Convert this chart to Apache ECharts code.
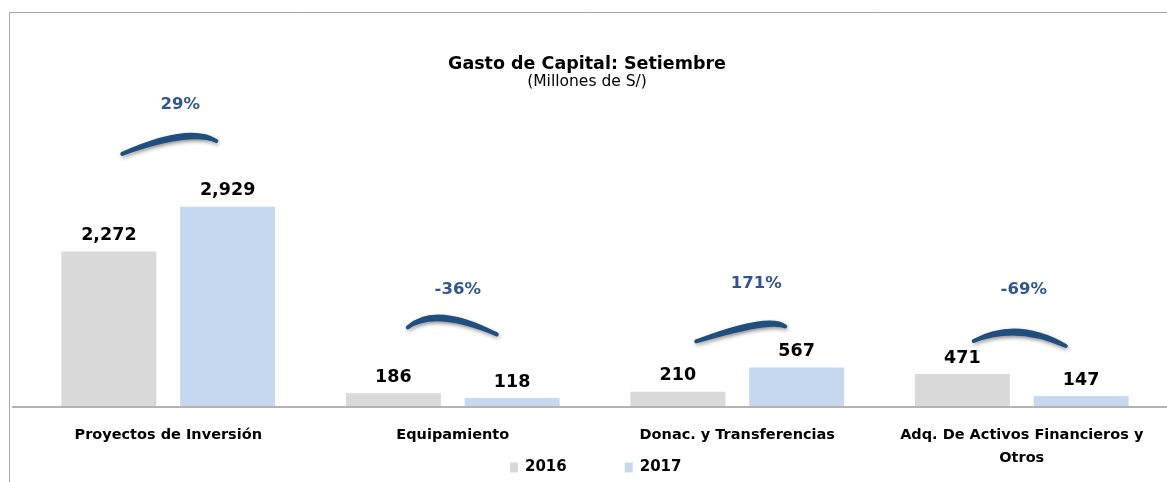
<!DOCTYPE html>
<html>
<head>
<meta charset="utf-8">
<script src="https://cdn.jsdelivr.net/npm/echarts@6/dist/echarts.min.js"></script>
<style>
  html, body { margin: 0; padding: 0; background: #fff; }
  #chart { width: 1167px; height: 482px; }
</style>
</head>
<body>
<div id="chart"></div>
<script>
// datos del gráfico
const categories = ['Proyectos de Inversión', 'Equipamiento', 'Donac. y Transferencias', 'Adq. De Activos Financieros y\nOtros']
const values2016 = [2272, 186, 210, 471]
const values2017 = [2929, 118, 567, 147]
const changeLabels = ['29%', '-36%', '171%', '-69%']

const FONT = '"DejaVu Sans", sans-serif'
const ARC_COLOR = '#1f4e7f'
const PCT_COLOR = '#2f5690'

// forma de cada arco (px, respecto al centro de la categoría y la barra más alta)
const arcStyle = [
  { l: [-46, -53], c: [21, -80], r: [48, -66], t: [12, -102] },
  { l: [-45, -66], c: [-18, -88], r: [44, -59], t: [5, -104] },
  { l: [-41, -26], c: [32, -51], r: [48, -41], t: [19, -84] },
  { l: [-48, -33], c: [-5, -53], r: [44, -28], t: [2, -84] }
]

const chart = echarts.init(document.getElementById('chart'))

const valueLabel = {
  show: true, position: 'top', distance: 7,
  fontFamily: FONT, fontSize: 17.5, fontWeight: 'bold', color: '#000',
  formatter: p => p.value.toLocaleString('en-US')
}

const option = {
  animation: false,
  title: {
    text: 'Gasto de Capital: Setiembre',
    subtext: '(Millones de S/)',
    left: 582,
    textAlign: 'center',
    top: 50,
    itemGap: 1,
    textStyle: { fontFamily: FONT, fontSize: 17.5, fontWeight: 'bold', color: '#000' },
    subtextStyle: { fontFamily: FONT, fontSize: 15.5, color: '#000' }
  },
  legend: {
    data: ['2016', '2017'],
    left: 505,
    top: 455,
    icon: 'rect',
    itemWidth: 8,
    itemHeight: 10,
    itemGap: 58,
    textStyle: { fontFamily: FONT, fontSize: 15, fontWeight: 'bold', color: '#000', padding: [0, 0, 0, 2] }
  },
  grid: { left: 26, right: 3, top: 134, bottom: 76 },
  xAxis: {
    type: 'category',
    data: categories,
    axisLine: { show: false },
    axisTick: { show: false },
    axisLabel: {
      fontFamily: FONT, fontSize: 14.5, fontWeight: 'bold', color: '#000',
      margin: 18, lineHeight: 23, interval: 0
    }
  },
  yAxis: { type: 'value', min: 0, max: 4000, show: false },
  series: [
    {
      name: '2016', type: 'bar', data: values2016,
      barWidth: 95, barGap: '25%',
      itemStyle: { color: '#d9d9d9' },
      label: valueLabel
    },
    {
      name: '2017', type: 'bar', data: values2017,
      barWidth: 95,
      itemStyle: { color: '#c6d9f0' },
      label: valueLabel
    },
    {
      // arcos y variación porcentual
      name: 'var', type: 'custom', silent: true, z: 5,
      data: categories.map((c, i) => [i, Math.max(values2016[i], values2017[i])]),
      renderItem(params, api) {
        const i = api.value(0)
        const p = api.coord([i, api.value(1)])
        const s = arcStyle[i]
        const L = (p[0] + s.l[0]) + ',' + (p[1] + s.l[1])
        const R = (p[0] + s.r[0]) + ',' + (p[1] + s.r[1])
        const cx = p[0] + s.c[0]
        const cy = p[1] + s.c[1]
        // trazo con forma de media luna, más grueso al centro
        const d = 'M' + L + ' Q' + cx + ',' + (cy - 3) + ' ' + R +
          ' Q' + cx + ',' + (cy + 3) + ' ' + L + ' Z'
        return {
          type: 'group',
          children: [
            {
              type: 'path',
              shape: { pathData: d },
              style: {
                fill: ARC_COLOR, stroke: ARC_COLOR, lineWidth: 4, lineJoin: 'round', lineCap: 'round',
                shadowBlur: 4, shadowOffsetX: 1, shadowOffsetY: 2, shadowColor: 'rgba(0,0,0,0.35)'
              }
            },
            {
              type: 'text',
              x: p[0] + s.t[0],
              y: p[1] + s.t[1],
              style: {
                text: changeLabels[i], fill: PCT_COLOR,
                font: 'bold 16.5px ' + FONT,
                align: 'center', verticalAlign: 'middle'
              }
            }
          ]
        }
      }
    }
  ]
}

chart.setOption(option)

// marco y línea base
const baseY = chart.convertToPixel({ yAxisIndex: 0 }, 0)
chart.setOption({
  graphic: [
    {
      type: 'rect', silent: true,
      shape: { x: 9.5, y: 12.5, width: 1200, height: 500 },
      style: { fill: 'none', stroke: '#a6a6a6', lineWidth: 1 }
    },
    {
      type: 'line', silent: true,
      shape: { x1: 12, y1: baseY + 1, x2: 1167, y2: baseY + 1 },
      style: { stroke: '#b4b4b4', lineWidth: 2 }
    }
  ]
})
</script>
</body>
</html>
